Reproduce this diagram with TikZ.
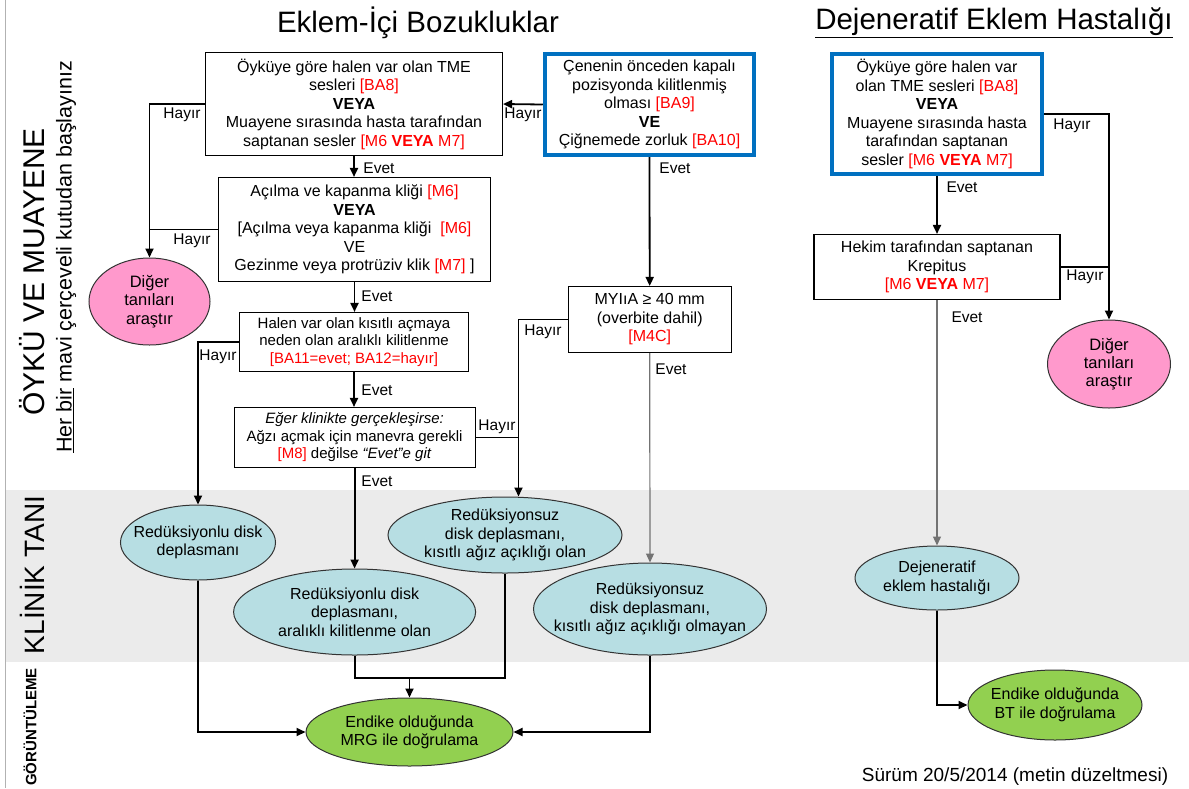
\documentclass[tikz,border=0pt]{standalone}
\usepackage{fontspec}
\setmainfont{Liberation Sans}
\usetikzlibrary{arrows.meta,shapes.geometric}
\definecolor{mavi}{HTML}{0070C0}
\definecolor{kirmizi}{HTML}{FF0000}
\definecolor{turkuaz}{HTML}{B7DEE3}
\definecolor{pembe}{HTML}{FF99CC}
\definecolor{yesil}{HTML}{92D050}
\definecolor{bant}{HTML}{EBEBEB}
\newcommand{\kr}[1]{\textcolor{kirmizi}{#1}}
\newcommand{\yazi}[2]{\fontsize{#1}{#2}\selectfont}

\begin{document}
\begin{tikzpicture}[x=1pt,y=-1pt,
    every node/.style={align=center, inner sep=0pt, font=\yazi{16}{18.5}},
    kutu/.style={draw, line width=1.1pt},
    mavikutu/.style={draw=mavi, line width=4pt},
    tani/.style={ellipse, draw=black!80, line width=1pt, fill=turkuaz},
    pembetani/.style={tani, fill=pembe},
    dogrulama/.style={tani, fill=yesil},
    ok/.style={line width=1.8pt, -{Triangle[length=9pt,width=8pt]}},
    cizgi/.style={line width=1.8pt},
    ince/.style={line width=1.2pt, draw=black!55, -{Triangle[length=9pt,width=8pt]}},
    evet/.style={font=\yazi{15.5}{17}},
    baslik/.style={font=\yazi{29.5}{32}}]
    \useasboundingbox (0,0) rectangle (1189,788);
    \fill[bant] (5,490) rectangle (1189,662);
    \draw[black!30, line width=1pt] (5,0) -- (5,788);

    \node[baslik] (baslik1) at (418,23) {Eklem-İçi Bozukluklar};
    \node[baslik] (baslik2) at (994,23) {\underline{Dejeneratif Eklem Hastalığı}};
    \node[rotate=90, font=\yazi{30}{32}] (oyku) at (32,272) {ÖYKÜ VE MUAYENE};
    \node[rotate=90, font=\yazi{21.5}{24}] (her) at (66,257) {\underline{Her bir} mavi çerçeveli kutudan başlayınız};
    \node[rotate=90, font=\yazi{28}{30}] (klinik) at (32,575) {KLİNİK TANI};
    \node[rotate=90, font=\bfseries\yazi{15}{17}] (goruntu) at (30,727) {GÖRÜNTÜLEME};

    \node[kutu, minimum width=297pt, minimum height=103pt] (b1) at (354,104) {Öyküye göre halen var olan TME\\ sesleri \kr{[BA8]}\\ \textbf{VEYA}\\ Muayene sırasında hasta tarafından\\ saptanan sesler \kr{[M6 \textbf{VEYA} M7]}};
    \node[mavikutu, minimum width=209.5pt, minimum height=101pt] (b2) at (649.5,104.5) {Çenenin önceden kapalı\\ pozisyonda kilitlenmiş\\ olması \kr{[BA9]}\\ \textbf{VE}\\ Çiğnemede zorluk \kr{[BA10]}};
    \node[kutu, minimum width=271.5pt, minimum height=104pt] (b3) at (354.5,229.5) {Açılma ve kapanma kliği \kr{[M6]}\\ \textbf{VEYA}\\ {[}Açılma veya kapanma kliği\ \ \kr{[M6]}\\ VE\\ Gezinme veya protrüziv klik \kr{[M7]} ]};
    \node[kutu, minimum width=229pt, minimum height=59pt, font=\yazi{15}{17.5}] (b4) at (354,342) {Halen var olan kısıtlı açmaya\\ neden olan aralıklı kilitlenme\\ \kr{[BA11=evet; BA12=hayır]}};
    \node[kutu, minimum width=241pt, minimum height=60pt, font=\yazi{15}{17.5}] (b5) at (354.6,437.5) {\textit{Eğer klinikte gerçekleşirse:}\\ Ağzı açmak için manevra gerekli\\ \kr{[M8]} değilse \textit{“Evet”e git}};
    \node[kutu, minimum width=163pt, minimum height=66pt] (b6) at (649.7,319.5) {MYIıA ≥ 40 mm\\ (overbite dahil)\\ \kr{[M4C]}};
    \node[mavikutu, minimum width=210.5pt, minimum height=120pt] (r1) at (937,114) {Öyküye göre halen var\\ olan TME sesleri \kr{[BA8]}\\ \textbf{VEYA}\\ Muayene sırasında hasta\\ tarafından saptanan\\ sesler \kr{[M6 \textbf{VEYA} M7]}};
    \node[kutu, minimum width=246pt, minimum height=65pt] (r2) at (937,267) {Hekim tarafından saptanan\\ Krepitus\\ \kr{[M6 \textbf{VEYA} M7]}};

    \node[pembetani, minimum width=121pt, minimum height=87pt, label={[font=\yazi{16.5}{18.3}]center:{Diğer\\ tanıları\\ araştır}}] (pembe1) at (149.5,301.5) {};
    \node[pembetani, minimum width=123pt, minimum height=88pt, label={[font=\yazi{16.5}{18.3}]center:{Diğer\\ tanıları\\ araştır}}] (pembe2) at (1109,364) {};
    \node[tani, minimum width=155pt, minimum height=75pt, label={center:{Redüksiyonlu disk\\ deplasmanı}}] (e1) at (198,542.5) {};
    \node[tani, minimum width=242pt, minimum height=86pt, label={center:{Redüksiyonlu disk\\ deplasmanı,\\ aralıklı kilitlenme olan}}] (e2) at (354.6,612) {};
    \node[tani, minimum width=234pt, minimum height=76pt, label={center:{Redüksiyonsuz\\ disk deplasmanı,\\ kısıtlı ağız açıklığı olan}}] (e3) at (505,535) {};
    \node[tani, minimum width=233pt, minimum height=92pt, label={center:{Redüksiyonsuz\\ disk deplasmanı,\\ kısıtlı ağız açıklığı olmayan}}] (e4) at (650,609) {};
    \node[tani, minimum width=164pt, minimum height=64pt, label={center:{Dejeneratif\\ eklem hastalığı}}] (dej) at (937,578) {};
    \node[dogrulama, minimum width=207pt, minimum height=68pt, label={center:{Endike olduğunda\\ MRG ile doğrulama}}] (g1) at (409.5,732) {};
    \node[dogrulama, minimum width=174pt, minimum height=70pt, label={center:{Endike olduğunda\\ BT ile doğrulama}}] (g2) at (1055,705) {};

    \node[evet] (hayir1) at (182,115) {Hayır};
    \node[evet] (hayir2) at (523,115) {Hayır};
    \node[evet] (hayir3) at (192,241) {Hayır};
    \node[evet] (hayir4) at (218,357) {Hayır};
    \node[evet] (hayir5) at (497,427) {Hayır};
    \node[evet] (hayir6) at (543,332) {Hayır};
    \node[evet] (hayir7) at (1072,126) {Hayır};
    \node[evet] (hayir8) at (1085,277) {Hayır};
    \node[evet] (evet1) at (379,168) {Evet};
    \node[evet] (evet2) at (377,296) {Evet};
    \node[evet] (evet3) at (377,390) {Evet};
    \node[evet] (evet4) at (377,481) {Evet};
    \node[evet] (evet5) at (675,168) {Evet};
    \node[evet] (evet6) at (671,369) {Evet};
    \node[evet] (evet7) at (962,187) {Evet};
    \node[evet] (evet8) at (967,317) {Evet};
    \node[font=\yazi{19}{22}] (surum) at (1015,777) {Sürüm 20/5/2014 (metin düzeltmesi)};

    \coordinate (d3) at ([xshift=13.5pt]e3.north);
    \coordinate (birles) at (409.5,678);

    \draw[ok] (b2.west) -- (b1.east);
    \draw[ok] (b1.west) -| (pembe1.north);
    \draw[cizgi] (b3.west) -- (b3.west -| pembe1.north);
    \draw[ok] (b1.south) -- (b1.south |- b3.north);
    \draw[ok] (b3.south) -- (b3.south |- b4.north);
    \draw[ok] (b4.south) -- (b4.south |- b5.north);
    \draw[ok] (b5.south) -- (b5.south |- e2.north);
    \draw[ok] (b4.west) -| (e1.north);
    \draw[ok] (b6.west) -| (d3);
    \draw[cizgi] (b5.east) -- (b5.east -| d3);
    \draw[ok] (b2.south) -- (b6.north);
    \draw[ince] (b6.south) -- (e4.north);
    \draw[ok] (e1.south) |- (g1.west);
    \draw[ok] (e4.south) |- (g1.east);
    \draw[cizgi] (e2.south) |- (birles) -| (e3.south);
    \draw[ok] (birles) -- (g1.north);
    \draw[ok] (r1.south) -- (r2.north);
    \draw[ok] (r1.east) -| (pembe2.north);
    \draw[cizgi] (r2.east) -- (r2.east -| pembe2.north);
    \draw[ince] (r2.south) -- (dej.north);
    \draw[ok] (dej.south) |- (g2.west);
\end{tikzpicture}
\end{document}
